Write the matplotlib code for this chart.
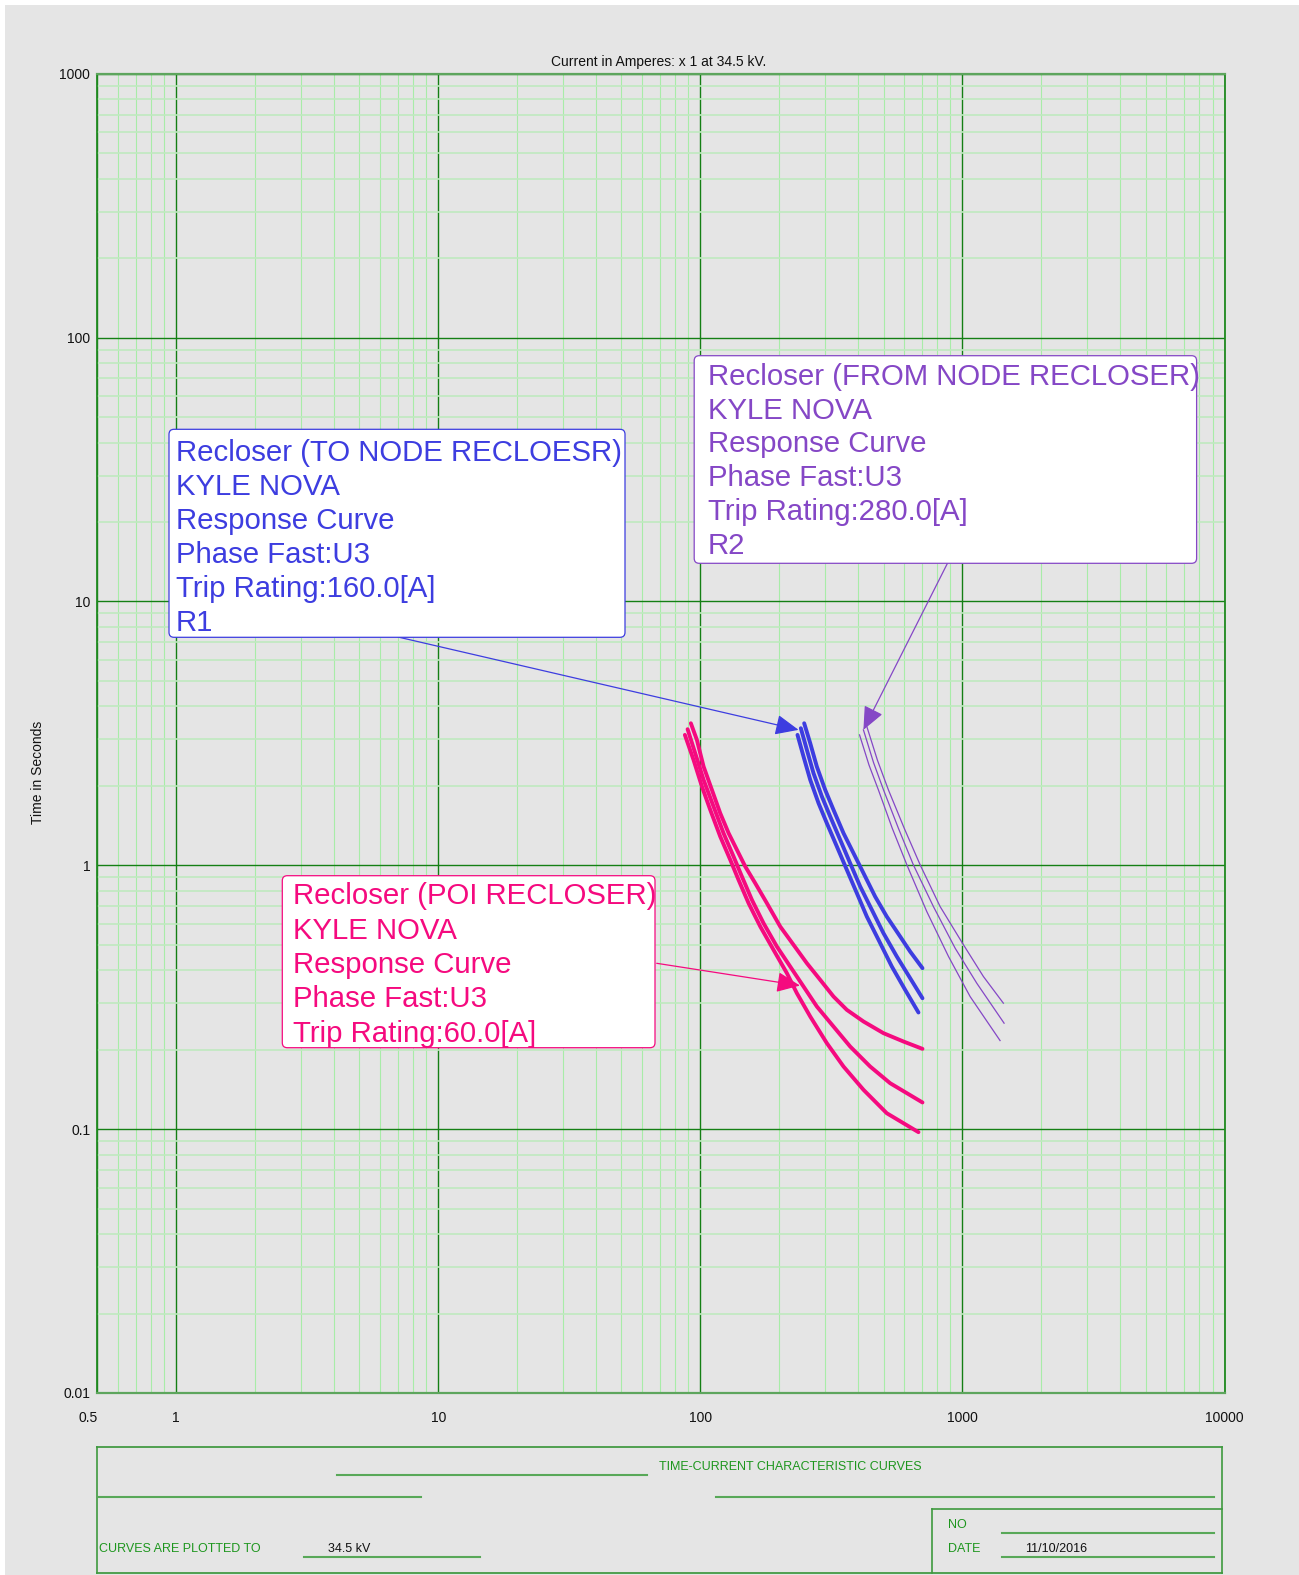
import numpy as np
import matplotlib
matplotlib.use("Agg")
import matplotlib.pyplot as plt
from matplotlib.patches import FancyBboxPatch, Rectangle
from matplotlib.lines import Line2D
from matplotlib.ticker import LogLocator, NullFormatter

plt.rcParams["font.family"] = ["Liberation Sans", "DejaVu Sans"]

W, H = 1299, 1575

# time-current curves, three per recloser (amps, seconds)
r3_a_amps = [92.0, 97.0, 102.9, 110.7, 119.1, 128.2, 137.9, 148.4, 162.0, 179.5,
             201.7, 226.8, 254.9, 286.7, 322.2, 362.2, 419.4, 499.6, 595.9, 704.0]
r3_a_secs = [3.453, 2.987, 2.366, 1.931, 1.575, 1.323, 1.144, 0.989, 0.855, 0.718,
             0.586, 0.4993, 0.4255, 0.3679, 0.3181, 0.2832, 0.2558, 0.2311, 0.2148, 0.2015]
r3_b_amps = [89.4, 95.6, 102.9, 112.3, 122.6, 133.9, 144.1, 157.3, 174.2, 195.9,
             220.2, 247.6, 278.3, 322.2, 373.0, 444.6, 530.0, 704.0]
r3_b_secs = [3.279, 2.659, 2.107, 1.670, 1.323, 1.079, 0.906, 0.7395, 0.6033, 0.492,
             0.4133, 0.3471, 0.2916, 0.2448, 0.2056, 0.1727, 0.1493, 0.1262]
r3_c_amps = [87.3, 94.2, 101.4, 109.1, 119.1, 130.1, 139.9, 152.8, 169.3, 190.2,
             213.9, 233.5, 262.6, 303.9, 351.8, 419.4, 514.5, 679.6]
r3_c_secs = [3.120, 2.508, 1.988, 1.622, 1.285, 1.048, 0.880, 0.718, 0.586, 0.478,
             0.390, 0.3275, 0.2672, 0.2117, 0.1727, 0.1409, 0.1149, 0.0974]

r1_a_amps = [249.0, 262.6, 278.3, 299.5, 322.2, 351.8, 384.1, 419.4, 464.5, 514.5,
             578.6, 631.8, 704.0]
r1_a_secs = [3.453, 2.901, 2.366, 1.931, 1.622, 1.323, 1.111, 0.933, 0.761, 0.639,
             0.537, 0.471, 0.4074]
r1_b_amps = [241.8, 255.0, 270.3, 290.9, 313.0, 341.8, 373.0, 407.3, 451.2, 499.6,
             561.9, 631.8, 704.0]
r1_b_secs = [3.307, 2.737, 2.233, 1.822, 1.530, 1.248, 1.018, 0.831, 0.678, 0.553,
             0.451, 0.3733, 0.3134]
r1_c_amps = [234.8, 247.6, 262.6, 282.5, 303.9, 331.8, 362.2, 395.5, 431.8, 478.4,
             537.8, 604.6, 679.6]
r1_c_secs = [3.120, 2.582, 2.107, 1.719, 1.443, 1.178, 0.961, 0.784, 0.639, 0.522,
             0.4133, 0.3372, 0.2767]

r2_a_amps = [432, 474, 522, 600, 690, 822, 1000, 1202, 1433]
r2_a_secs = [3.35, 2.5, 1.93, 1.38, 1.003, 0.6975, 0.507, 0.379, 0.3002]
r2_b_amps = [419, 458, 500, 570, 650, 775, 938, 1135, 1442]
r2_b_secs = [3.26, 2.45, 1.93, 1.38, 1.003, 0.6975, 0.485, 0.357, 0.2521]
r2_c_amps = [405, 440, 478, 540, 614, 731, 885, 1070, 1392]
r2_c_secs = [3.12, 2.4, 1.93, 1.38, 1.003, 0.668, 0.451, 0.318, 0.2166]

x_ticks = [0.5, 1, 10, 100, 1000, 10000]
x_tick_labels = ["0.5", "1", "10", "100", "1000", "10000"]
y_ticks = [0.01, 0.1, 1, 10, 100, 1000]
y_tick_labels = ["0.01", "0.1", "1", "10", "100", "1000"]

r1_lines = ["Recloser (TO NODE RECLOESR)", "KYLE NOVA", "Response Curve",
            "Phase Fast:U3", "Trip Rating:160.0[A]", "R1"]
r2_lines = ["Recloser (FROM NODE RECLOSER)", "KYLE NOVA", "Response Curve",
            "Phase Fast:U3", "Trip Rating:280.0[A]", "R2"]
r3_lines = ["Recloser (POI RECLOSER)", "KYLE NOVA", "Response Curve",
            "Phase Fast:U3", "Trip Rating:60.0[A]"]

BLUE = "#3d3de0"
PURPLE = "#8547c6"
PINK = "#f50a7f"
GREEN_TXT = "#1e961e"
GREEN_LN = "#58a858"
BG = "#e5e5e5"

fig = plt.figure(figsize=(W / 100, H / 100), dpi=100, facecolor=BG)
inch = fig.dpi_scale_trans


def fx(x):
    return x / 100


def fy(y):
    return (H - y) / 100


# thin white margin at top and left
fig.add_artist(Rectangle((0, fy(5)), fx(W), fy(0) - fy(5), transform=inch,
                         color="white", lw=0, zorder=0))
fig.add_artist(Rectangle((0, 0), fx(4.5), fy(0), transform=inch,
                         color="white", lw=0, zorder=0))

left, right, top, bottom = 97.3, 1224.5, 73.7, 1393
ax = fig.add_axes([left / W, 1 - bottom / H, (right - left) / W, (bottom - top) / H])
ax.set_facecolor(BG)
ax.set_xscale("log")
ax.set_yscale("log")
ax.set_xlim(0.5, 10000)
ax.set_ylim(0.01, 1000)

ax.xaxis.set_minor_locator(LogLocator(base=10, subs=np.arange(2, 10), numticks=20))
ax.yaxis.set_minor_locator(LogLocator(base=10, subs=np.arange(2, 10), numticks=20))
ax.xaxis.set_minor_formatter(NullFormatter())
ax.yaxis.set_minor_formatter(NullFormatter())
ax.set_xticks(x_ticks)
ax.set_xticklabels(x_tick_labels, fontsize=10, color="#111111")
ax.set_yticks(y_ticks)
ax.set_yticklabels(y_tick_labels, fontsize=10, color="#111111")
ax.tick_params(which="both", length=0)
ax.tick_params(axis="x", pad=13)
ax.tick_params(axis="y", pad=5)
ax.get_xticklabels()[0].set_horizontalalignment("right")

ax.grid(which="minor", axis="x", color="#a8eca8", lw=0.8)
ax.grid(which="minor", axis="y", color="#bfe9bf", lw=1.2)
ax.grid(which="major", axis="both", color="#147f14", lw=1.0)
ax.set_axisbelow(True)
for side in ["top", "bottom"]:
    ax.spines[side].set_color("#5da55d")
    ax.spines[side].set_linewidth(1.6)
for side in ["left", "right"]:
    ax.spines[side].set_color("#1f8a1f")
    ax.spines[side].set_linewidth(1.3)

for a, s in [(r3_a_amps, r3_a_secs), (r3_b_amps, r3_b_secs), (r3_c_amps, r3_c_secs)]:
    ax.plot(a, s, color=PINK, lw=2.8, solid_capstyle="round", solid_joinstyle="round", zorder=3)
for a, s in [(r1_a_amps, r1_a_secs), (r1_b_amps, r1_b_secs), (r1_c_amps, r1_c_secs)]:
    ax.plot(a, s, color=BLUE, lw=2.8, solid_capstyle="round", solid_joinstyle="round", zorder=3)
for a, s in [(r2_a_amps, r2_a_secs), (r2_b_amps, r2_b_secs), (r2_c_amps, r2_c_secs)]:
    ax.plot(a, s, color=PURPLE, lw=0.9, zorder=3)

fig.text(fx(658.8), fy(61.7), "Current in Amperes: x 1 at 34.5 kV.", transform=inch,
         ha="center", va="center", fontsize=10, color="#111111")
fig.text(fx(38), fy(772), "Time in Seconds", transform=inch, rotation=90,
         ha="center", va="center", fontsize=10, color="#111111")


# label boxes with arrows pointing at the curves
def label_box(x0, y0, x1, y1, tx, ty0, step, lines, color, arrow_from, arrow_to):
    box = FancyBboxPatch((fx(x0), fy(y1)), fx(x1 - x0), fy(y0) - fy(y1),
                         boxstyle="round,pad=0,rounding_size=0.05", transform=inch,
                         facecolor="white", edgecolor=color, lw=0.9, zorder=5)
    fig.add_artist(box)
    for i, line in enumerate(lines):
        fig.text(fx(tx), fy(ty0 + i * step), line, transform=inch, ha="left",
                 va="baseline", fontsize=21.2, color=color, zorder=6)
    ax.annotate("", xy=arrow_to, xycoords="data",
                xytext=(fx(arrow_from[0]), fy(arrow_from[1])), textcoords=inch,
                arrowprops=dict(arrowstyle="-|>,head_length=0.8,head_width=0.35",
                                mutation_scale=18, color=color, lw=0.9,
                                shrinkA=0, shrinkB=0), zorder=4)


label_box(169, 429.3, 625, 637.3, 176, 460.7, 34, r1_lines, BLUE, (398, 637), (237, 3.26))
label_box(694.2, 355.7, 1196.6, 563.3, 707.7, 385, 33.7, r2_lines, PURPLE,
          (947.3, 563.6), (419, 3.26))
label_box(282.3, 875.7, 655, 1047.7, 292.7, 904.3, 34.3, r3_lines, PINK,
          (656.7, 963.3), (240, 0.35))

# title block
narrow = ["Liberation Sans Narrow", "Liberation Sans", "DejaVu Sans"]


def hline(x0, x1, y, lw=1.5, color=GREEN_LN):
    fig.add_artist(Line2D([fx(x0), fx(x1)], [fy(y), fy(y)], transform=inch,
                          color=color, lw=lw))


def vline(x, y0, y1, lw=1.2, color="#3f9a3f"):
    fig.add_artist(Line2D([fx(x), fx(x)], [fy(y0), fy(y1)], transform=inch,
                          color=color, lw=lw))


hline(97.3, 1222.4, 1446.7, color="#4fa04f", lw=1.4)
hline(97.3, 1222.4, 1572.7, color="#4fa04f", lw=1.4)
vline(97.3, 1446.7, 1572.7)
vline(1222.4, 1446.7, 1572.7)
hline(337, 647.3, 1475)
hline(99, 420.5, 1496.7)
hline(716.2, 1214.2, 1496.7)
hline(932.3, 1222.4, 1509, color="#3f9a3f", lw=1.2)
vline(932.3, 1509, 1572.7)
hline(1001.8, 1214.2, 1532.7)
hline(1001.8, 1214.2, 1556.7)
hline(303.6, 480, 1556.7)

fig.text(fx(659), fy(1467.3), "TIME-CURRENT CHARACTERISTIC CURVES", transform=inch,
         ha="left", va="center", fontsize=9, color=GREEN_TXT, family=narrow)
fig.text(fx(948), fy(1525), "NO", transform=inch, ha="left", va="center",
         fontsize=9, color=GREEN_TXT, family=narrow)
fig.text(fx(948), fy(1549.3), "DATE", transform=inch, ha="left", va="center",
         fontsize=9, color=GREEN_TXT, family=narrow)
fig.text(fx(1024.6), fy(1549.3), "11/10/2016", transform=inch, ha="left", va="center",
         fontsize=9, color="#111111", family=narrow)
fig.text(fx(99), fy(1549.3), "CURVES ARE PLOTTED TO", transform=inch, ha="left",
         va="center", fontsize=9, color=GREEN_TXT, family=narrow)
fig.text(fx(328), fy(1549.3), "34.5 kV", transform=inch, ha="left", va="center",
         fontsize=9, color="#111111", family=narrow)

fig.savefig("out.png", dpi=100, facecolor=BG)
